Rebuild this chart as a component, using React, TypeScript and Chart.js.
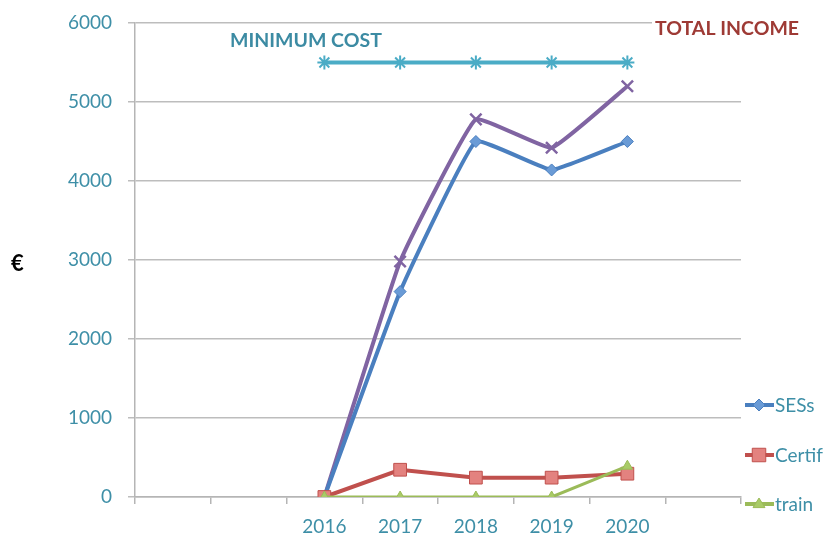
import React, { useEffect, useRef } from 'react';
import { Chart, registerables } from 'chart.js';

Chart.register(...registerables);

const categories = ['', '', '2016', '2017', '2018', '2019', '2020', ''];
const minimumCost = [null, null, 5500, 5500, 5500, 5500, 5500, null];
const totalIncome = [null, null, 0, 2980, 4780, 4420, 5200, null];
const sesValues = [null, null, 0, 2600, 4500, 4140, 4500, null];
const certifValues = [null, null, 0, 345, 245, 245, 295, null];
const trainValues = [null, null, 0, 0, 0, 0, 390, null];
const yTicks = [0, 1000, 2000, 3000, 4000, 5000, 6000];

const TEAL = '#3E8FA7';
const FONT = 'Lato, "Open Sans", sans-serif';

function drawMarker(ctx: CanvasRenderingContext2D, style: string, r: number, x: number, y: number) {
  if (style === 'rectRot') {
    ctx.moveTo(x, y - r);
    ctx.lineTo(x + r, y);
    ctx.lineTo(x, y + r);
    ctx.lineTo(x - r, y);
    ctx.closePath();
  } else if (style === 'rect') {
    const s = r * 0.75;
    ctx.rect(x - s, y - s, 2 * s, 2 * s);
  } else if (style === 'triangle') {
    ctx.moveTo(x, y - r);
    ctx.lineTo(x + r, y + r * 0.6);
    ctx.lineTo(x - r, y + r * 0.6);
    ctx.closePath();
  }
}

const overlayPlugin = {
  id: 'overlay',
  afterDraw(chart: any) {
    const ctx = chart.ctx;
    ctx.save();
    ctx.font = `bold 19.5px ${FONT}`;
    ctx.textBaseline = 'middle';
    ctx.textAlign = 'left';
    ctx.fillStyle = '#3C8BA3';
    ctx.fillText('MINIMUM COST', 230, 41);
    const t = 'TOTAL INCOME';
    const w = ctx.measureText(t).width;
    ctx.fillStyle = '#ffffff';
    ctx.fillRect(652, 16, w + 10, 26);
    ctx.fillStyle = '#9E3A35';
    ctx.fillText(t, 655, 29);
    ctx.font = `bold 22px ${FONT}`;
    ctx.fillStyle = '#000000';
    ctx.fillText('€', 11, 264);
    const items = [
      { label: 'SESs', ds: 2, y: 405 },
      { label: 'Certif', ds: 3, y: 455 },
      { label: 'train', ds: 4, y: 504 },
    ];
    ctx.font = `19px ${FONT}`;
    items.forEach((it) => {
      const dsObj = chart.data.datasets[it.ds];
      ctx.strokeStyle = dsObj.borderColor;
      ctx.lineWidth = 4;
      ctx.beginPath();
      ctx.moveTo(745, it.y);
      ctx.lineTo(774, it.y);
      ctx.stroke();
      ctx.fillStyle = dsObj.pointBackgroundColor;
      ctx.strokeStyle = dsObj.pointBorderColor;
      ctx.lineWidth = 1;
      ctx.beginPath();
      drawMarker(ctx, dsObj.pointStyle, dsObj.pointRadius, 759, it.y);
      ctx.fill();
      ctx.stroke();
      ctx.fillStyle = TEAL;
      ctx.fillText(it.label, 775, it.y + 1);
    });
    ctx.restore();
  },
};

export default function App() {
  const ref = useRef<HTMLCanvasElement>(null);
  useEffect(() => {
    if (!ref.current) return;
    const chart = new Chart(ref.current, {
      type: 'line',
      data: {
        labels: categories,
        datasets: [
          {
            label: 'MINIMUM COST',
            data: minimumCost,
            borderColor: '#4BACC6',
            backgroundColor: '#4BACC6',
            pointBackgroundColor: '#4BACC6',
            pointBorderColor: '#4BACC6',
            borderWidth: 4,
            pointStyle: 'star',
            pointRadius: 7,
            pointBorderWidth: 2,
            tension: 0,
            order: 5,
          },
          {
            label: 'TOTAL INCOME',
            data: totalIncome,
            borderColor: '#8064A2',
            backgroundColor: '#8064A2',
            pointBackgroundColor: '#8064A2',
            pointBorderColor: '#8064A2',
            borderWidth: 4,
            pointStyle: 'crossRot',
            pointRadius: 8,
            pointBorderWidth: 2.5,
            tension: 0.1,
            order: 4,
          },
          {
            label: 'SESs',
            data: sesValues,
            borderColor: '#4A7FBF',
            backgroundColor: '#4A7FBF',
            pointBackgroundColor: '#6A9BD6',
            pointBorderColor: '#4A7FBF',
            borderWidth: 4,
            pointStyle: 'rectRot',
            pointRadius: 6,
            pointBorderWidth: 1,
            tension: 0.1,
            order: 3,
          },
          {
            label: 'Certif',
            data: certifValues,
            borderColor: '#C0504D',
            backgroundColor: '#C0504D',
            pointBackgroundColor: '#E3827F',
            pointBorderColor: '#C0504D',
            borderWidth: 4,
            pointStyle: 'rect',
            pointRadius: 9,
            pointBorderWidth: 1,
            tension: 0,
            order: 2,
          },
          {
            label: 'train',
            data: trainValues,
            borderColor: '#9BBB59',
            backgroundColor: '#9BBB59',
            pointBackgroundColor: '#A9CB67',
            pointBorderColor: '#9BBB59',
            borderWidth: 3,
            pointStyle: 'triangle',
            pointRadius: 6,
            pointBorderWidth: 1,
            tension: 0,
            order: 1,
          },
        ],
      },
      options: {
        responsive: false,
        animation: false,
        layout: { padding: { left: 0, top: 23, right: 84, bottom: 0 } },
        plugins: {
          legend: { display: false },
          tooltip: { enabled: false },
          title: { display: false },
        },
        scales: {
          x: {
            offset: true,
            afterFit: (s: any) => { s.height = 38; },
            grid: {
              offset: true,
              drawOnChartArea: false,
              drawTicks: true,
              tickLength: 7,
              color: '#b5b5b5',
              lineWidth: 1.5,
            },
            border: { display: true, color: '#b5b5b5', width: 1.5 },
            ticks: {
              color: TEAL,
              font: { family: FONT, size: 19 },
              padding: 11,
              maxRotation: 0,
              autoSkip: false,
            },
          },
          y: {
            min: 0,
            max: 6000,
            afterFit: (s: any) => { s.width = 135; s.paddingTop = 0; s.paddingBottom = 0; },
            afterBuildTicks: (s: any) => { s.ticks = yTicks.map((v) => ({ value: v })); },
            grid: {
              color: '#bdbdbd',
              lineWidth: 1.5,
              tickLength: 7,
              drawTicks: true,
            },
            border: { display: true, color: '#b5b5b5', width: 1.5 },
            ticks: {
              color: TEAL,
              font: { family: FONT, size: 19 },
              padding: 16,
              callback: (v: any) => String(v),
            },
          },
        },
      },
      plugins: [overlayPlugin],
    } as any);
    return () => chart.destroy();
  }, []);
  return (
    <div style={{ position: 'fixed', left: 0, top: 0, width: 825, height: 535, background: '#fff' }}>
      <canvas ref={ref} width={825} height={535} style={{ width: 825, height: 535 }} />
    </div>
  );
}
